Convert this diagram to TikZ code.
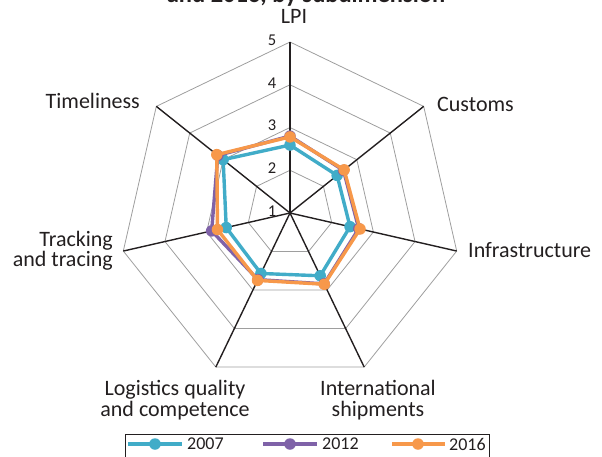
\documentclass[tikz,border=0pt]{standalone}
\usepackage{fontspec}
\setmainfont{Carlito}
\usetikzlibrary{calc}
\definecolor{cblue}{HTML}{41ACC8}
\definecolor{cpurple}{HTML}{7F62A8}
\definecolor{corange}{HTML}{F7984A}
\definecolor{ctext}{HTML}{231F20}
\begin{document}
\begin{tikzpicture}[x=1pt,y=1pt,
  ring/.style={draw=black!38, line width=0.8pt},
  spoke/.style={draw=ctext, line width=1.4pt},
  lab/.style={font=\fontsize{22}{20.5}\selectfont, text=ctext, inner sep=0pt, align=center},
  tick/.style={font=\fontsize{16.5}{17}\selectfont, text=ctext, inner sep=0pt},
  series/.style={line width=3.4pt, line join=round},
  dot/.style={circle, fill=#1, inner sep=0pt, minimum size=11.5pt},
  legtxt/.style={font=\fontsize{18}{18}\selectfont, text=ctext, inner sep=0pt, anchor=west}]
\useasboundingbox (0,0) rectangle (602,456);
% title fragment (cut by the page edge, as in the source)
\node[font=\bfseries\fontsize{24.5}{26}\selectfont, text=ctext, anchor=base, inner sep=0pt] (title) at (306,453) {and 2016, by subdimension};
\coordinate (C) at (290,243);
\def\unit{42.75}
% rings
\foreach \v in {2,3,4,5}{
  \draw[ring] ($(C)+(90:{(\v-1)*\unit})$)
    \foreach \k in {1,...,6}{ -- ($(C)+({90-\k*360/7}:{(\v-1)*\unit})$) } -- cycle;
}
% spokes
\foreach \k in {0,...,6}{
  \coordinate (A\k) at ($(C)+({90-\k*360/7}:{4*\unit})$);
  \draw[spoke] (C) -- (A\k);
}
% tick labels
\foreach \v in {1,...,5}{
  \node[tick] (t\v) at (272,{243+(\v-1)*\unit+2}) {\v};
}
% axis labels
\node[lab] (lLPI) at (294,439.5) {LPI};
\node[lab, anchor=west] (lCus) at (437,351.5) {Customs};
\node[lab, anchor=west] (lInf) at (468,205.5) {Infrastructure};
\node[lab, anchor=east] (lTim) at (140,355.5) {Timeliness};
\node[lab, anchor=east, align=right] (lTra) at (113,205) {Tracking\\and tracing};
\node[lab] (lLog) at (175,56) {Logistics quality\\and competence};
\node[lab] (lInt) at (378,56) {International\\shipments};
% series
\newcommand\drawseries[3]{%
  \foreach \val [count=\i from 0] in {#2}{
    \coordinate (#3\i) at ($(C)+({90-\i*360/7}:{(\val-1)*\unit})$);
  }
  \draw[series, #1] (#30) -- (#31) -- (#32) -- (#33) -- (#34) -- (#35) -- (#36) -- cycle;
  \foreach \i in {0,...,6}{ \node[dot=#1] at (#3\i) {}; }
}
\drawseries{cblue}{2.59,2.41,2.44,2.63,2.57,2.53,3.00}{b}
\drawseries{cpurple}{2.80,2.60,2.65,2.84,2.73,2.88,3.16}{p}
\drawseries{corange}{2.78,2.62,2.68,2.85,2.75,2.74,3.19}{o}
% legend
\draw[draw=ctext, line width=1pt] (125,-6) rectangle (489,22);
\coordinate (lb1) at (128,12); \coordinate (lb2) at (182,12);
\draw[series, cblue] (lb1) -- (lb2); \node[dot=cblue] (mb) at (155,12) {};
\node[legtxt] (tb) at (187,12) {2007};
\coordinate (lp1) at (263,12); \coordinate (lp2) at (317,12);
\draw[series, cpurple] (lp1) -- (lp2); \node[dot=cpurple] (mp) at (290,12) {};
\node[legtxt] (tp) at (322,12) {2012};
\coordinate (lo1) at (392,12); \coordinate (lo2) at (445,12);
\draw[series, corange] (lo1) -- (lo2); \node[dot=corange] (mo) at (418,12) {};
\node[legtxt] (to) at (449,12) {2016};
\end{tikzpicture}
\end{document}
